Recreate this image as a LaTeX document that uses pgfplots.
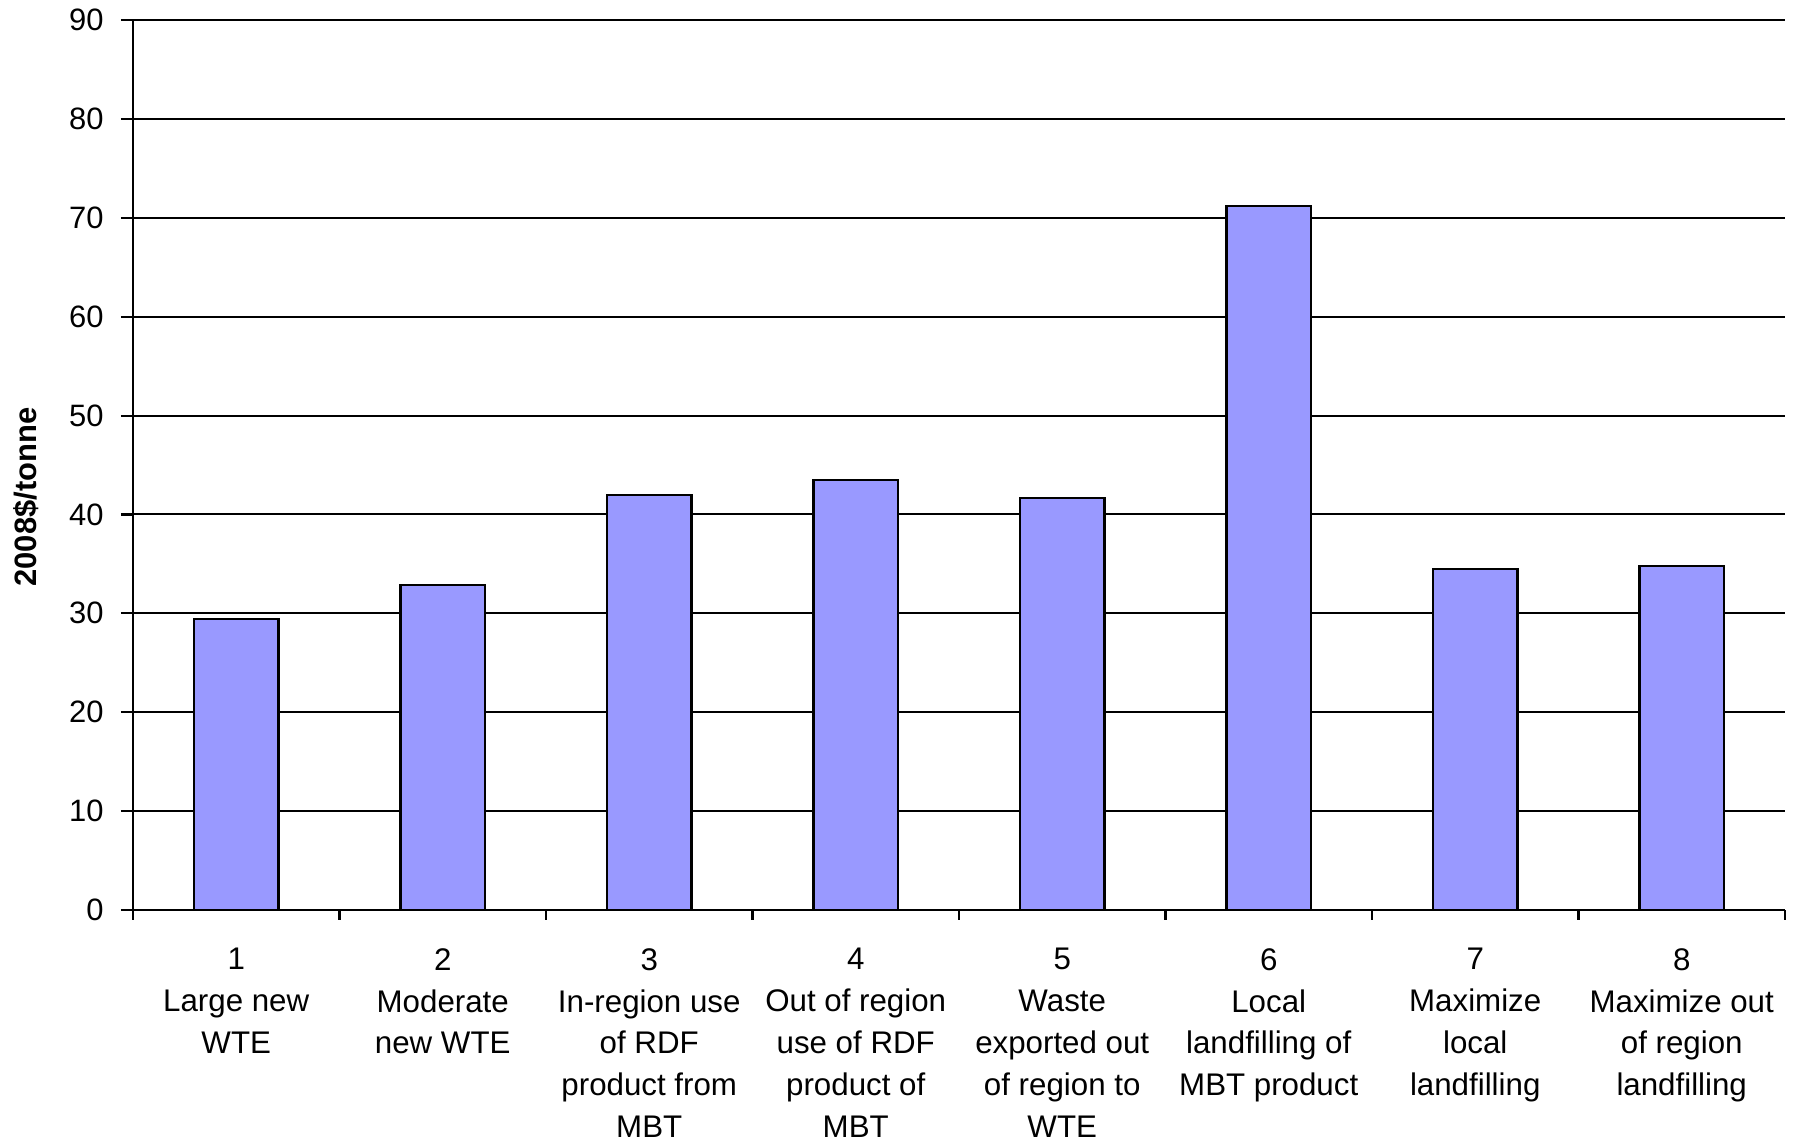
\documentclass[border=0pt]{standalone}
\usepackage{pgfplots}
\pgfplotsset{compat=1.18}
\usepackage{fontspec}
\setmainfont{Liberation Sans}
\definecolor{barblue}{HTML}{9999FF}

\begin{document}
\begin{tikzpicture}
\useasboundingbox (-13.3mm,-23mm) rectangle (166.4mm,91mm);
\begin{axis}[
  at={(0,0)}, anchor=south west,
  scale only axis,
  width=165.2mm, height=89mm,
  xmin=0.5, xmax=8.5,
  ymin=0, ymax=90,
  axis x line*=bottom,
  axis y line*=left,
  axis line style={line width=0.6pt},
  ytick={0,10,...,90},
  ymajorgrids,
  grid style={black, line width=0.55pt},
  tick align=outside,
  major tick length=1.2mm,
  tick style={black, line width=0.6pt},
  xtick={1,...,8},
  xtick style={draw=none},
  xticklabels={
    {1\\Large new\\WTE},
    {2\\Moderate\\new WTE},
    {3\\In-region use\\of RDF\\product from\\MBT},
    {4\\Out of region\\use of RDF\\product of\\MBT},
    {5\\Waste\\exported out\\of region to\\WTE},
    {6\\Local\\landfilling of\\MBT product},
    {7\\Maximize\\local\\landfilling},
    {8\\Maximize out\\of region\\landfilling}},
  extra x ticks={0.5,1.5,...,8.5},
  extra x tick labels={},
  extra x tick style={xtick style={draw=black, line width=0.6pt}, major tick length=1mm},
  xticklabel style={align=center, font=\fontsize{8.9}{11.9}\selectfont, anchor=north, yshift=-1.4mm},
  yticklabel style={font=\fontsize{8.8}{10}\selectfont, xshift=-0.5mm},
  /pgf/number format/assume math mode=true,
  ylabel={2008\$/tonne},
  ylabel style={font=\fontsize{8.8}{10}\selectfont\bfseries, at={(axis description cs:-0.0648,0.464)}, anchor=center},
  ybar, bar width=8.45mm,
]
\addplot[fill=barblue, draw=black, line width=0.6pt] coordinates {
  (1,29.4) (2,32.9) (3,42.0) (4,43.5) (5,41.7) (6,71.2) (7,34.5) (8,34.8)
};
\end{axis}
\end{tikzpicture}
\end{document}
